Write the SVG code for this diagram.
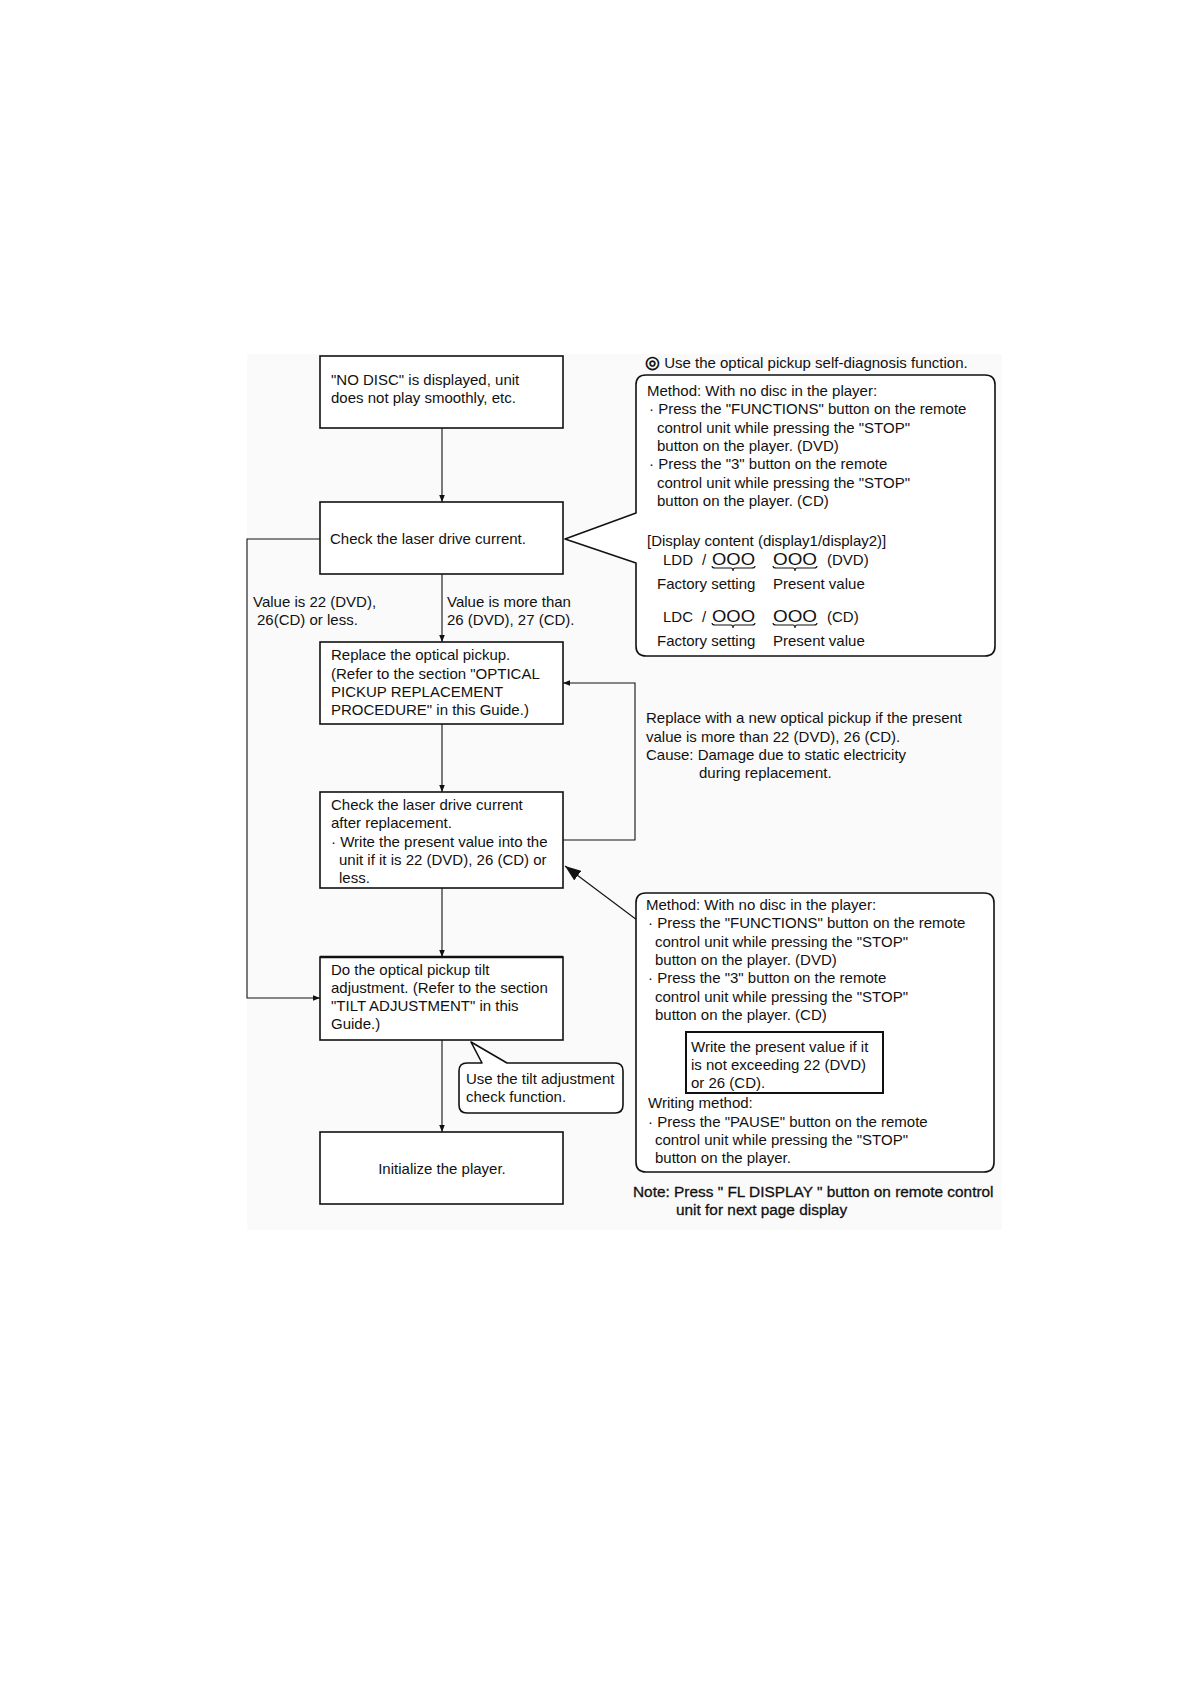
<svg xmlns="http://www.w3.org/2000/svg" width="1191" height="1685" viewBox="0 0 1191 1685">
<style>
text{font-family:"Liberation Sans",Arial,sans-serif;font-size:15px;fill:#111}
.box{fill:#fff;stroke:#111;stroke-width:1.6}
.bub{fill:#fff;stroke:#111;stroke-width:1.6;stroke-linejoin:round}
.con{fill:none;stroke:#111;stroke-width:1.1}
.note{stroke:#111;stroke-width:0.3;font-size:15.4px}
.ooo{font-size:17px}
</style>
<defs>
<marker id="ah" viewBox="0 0 10 10" refX="10" refY="5" markerWidth="7" markerHeight="7" markerUnits="userSpaceOnUse" orient="auto"><path d="M0,1 L10,5 L0,9 Z" fill="#111"/></marker>
<marker id="ahb" viewBox="0 0 10 10" refX="10" refY="5" markerWidth="16" markerHeight="12" markerUnits="userSpaceOnUse" orient="auto" preserveAspectRatio="none"><path d="M0,0 L10,5 L0,10 Z" fill="#111"/></marker>
</defs>
<rect x="0" y="0" width="1191" height="1685" fill="#fff"/>
<rect x="247" y="354" width="755" height="876" fill="#fafafa"/>

<g id="connectors">
<line class="con" x1="442" y1="428" x2="442" y2="502" marker-end="url(#ah)"/>
<line class="con" x1="442" y1="574" x2="442" y2="642" marker-end="url(#ah)"/>
<line class="con" x1="442" y1="724" x2="442" y2="792" marker-end="url(#ah)"/>
<line class="con" x1="442" y1="888" x2="442" y2="957" marker-end="url(#ah)"/>
<line class="con" x1="442" y1="1040" x2="442" y2="1132" marker-end="url(#ah)"/>
<path class="con" d="M320,539 L247,539 L247,998 L320,998" marker-end="url(#ah)"/>
<path class="con" d="M563,840 L635,840 L635,683 L563,683" marker-end="url(#ah)"/>
<line class="con" x1="637" y1="920" x2="565" y2="866" stroke-width="1.6" marker-end="url(#ahb)"/>
</g>

<g id="n1">
<rect class="box" x="320" y="356" width="243" height="72"/>
<text x="331" y="385">"NO DISC" is displayed, unit</text>
<text x="331" y="403">does not play smoothly, etc.</text>
</g>

<g id="n2">
<rect class="box" x="320" y="502" width="243" height="72"/>
<text x="330" y="544">Check the laser drive current.</text>
</g>

<g id="labels">
<text x="253" y="607">Value is 22 (DVD),</text>
<text x="257" y="625">26(CD) or less.</text>
<text x="447" y="607">Value is more than</text>
<text x="447" y="625">26 (DVD), 27 (CD).</text>
</g>

<g id="n3">
<rect class="box" x="320" y="642" width="243" height="82"/>
<text x="331" y="660">Replace the optical pickup.</text>
<text x="331" y="679">(Refer to the section "OPTICAL</text>
<text x="331" y="697">PICKUP REPLACEMENT</text>
<text x="331" y="715">PROCEDURE" in this Guide.)</text>
</g>

<g id="n4">
<rect class="box" x="320" y="792" width="243" height="96"/>
<text x="331" y="810">Check the laser drive current</text>
<text x="331" y="828">after replacement.</text>
<text x="331" y="847">· Write the present value into the</text>
<text x="339" y="865">unit if it is 22 (DVD), 26 (CD) or</text>
<text x="339" y="883">less.</text>
</g>

<g id="n5">
<rect class="box" x="320" y="957" width="243" height="83"/>
<line x1="320" y1="957" x2="563" y2="957" stroke="#111" stroke-width="2.6"/>
<text x="331" y="975">Do the optical pickup tilt</text>
<text x="331" y="993">adjustment.  (Refer to the section</text>
<text x="331" y="1011">"TILT ADJUSTMENT" in this</text>
<text x="331" y="1029">Guide.)</text>
</g>

<g id="n6">
<rect class="box" x="320" y="1132" width="243" height="72"/>
<text x="442" y="1174" text-anchor="middle">Initialize the player.</text>
</g>

<g id="tilt-callout">
<path class="bub" d="M482,1063 L471,1042 L507,1063 L615,1063 Q623,1063 623,1071 L623,1105 Q623,1113 615,1113 L467,1113 Q459,1113 459,1105 L459,1071 Q459,1063 467,1063 Z"/>
<text x="466" y="1084">Use the tilt adjustment</text>
<text x="466" y="1102">check function.</text>
</g>

<g id="diag-callout">
<text x="645" y="368"><tspan font-size="17" font-weight="bold">◎</tspan> Use the optical pickup self-diagnosis function.</text>
<path class="bub" d="M636,513 L636,385 Q636,375 646,375 L985,375 Q995,375 995,385 L995,646 Q995,656 985,656 L646,656 Q636,656 636,646 L636,563 L565,539 Z"/>
<text x="647" y="396">Method: With no disc in the player:</text>
<text x="649" y="414">· Press the "FUNCTIONS" button on the remote</text>
<text x="657" y="433">control unit while pressing the "STOP"</text>
<text x="657" y="451">button on the player. (DVD)</text>
<text x="649" y="469">· Press the "3" button on the remote</text>
<text x="657" y="488">control unit while pressing the "STOP"</text>
<text x="657" y="506">button on the player. (CD)</text>
<text x="647" y="546">[Display content (display1/display2)]</text>
<text x="663" y="565">LDD</text>
<text x="702" y="565">/</text>
<text class="ooo" x="712" y="565" textLength="43" lengthAdjust="spacingAndGlyphs">OOO</text>
<text class="ooo" x="773" y="565" textLength="44" lengthAdjust="spacingAndGlyphs">OOO</text>
<text x="827" y="565">(DVD)</text>
<path class="con" d="M712,566 q0,2 3,2 L731,568 q2,0 2,3 q0,-3 2,-3 L752,568 q3,0 3,-2 M773,566 q0,2 3,2 L793,568 q2,0 2,3 q0,-3 2,-3 L814,568 q3,0 3,-2"/>
<text x="657" y="589">Factory setting</text>
<text x="773" y="589">Present value</text>
<text x="663" y="622">LDC</text>
<text x="702" y="622">/</text>
<text class="ooo" x="712" y="622" textLength="43" lengthAdjust="spacingAndGlyphs">OOO</text>
<text class="ooo" x="773" y="622" textLength="44" lengthAdjust="spacingAndGlyphs">OOO</text>
<text x="827" y="622">(CD)</text>
<path class="con" d="M712,623 q0,2 3,2 L731,625 q2,0 2,3 q0,-3 2,-3 L752,625 q3,0 3,-2 M773,623 q0,2 3,2 L793,625 q2,0 2,3 q0,-3 2,-3 L814,625 q3,0 3,-2"/>
<text x="657" y="646">Factory setting</text>
<text x="773" y="646">Present value</text>
</g>

<g id="replace-note">
<text x="646" y="723">Replace with a new optical pickup if the present</text>
<text x="646" y="742">value is more than 22 (DVD), 26 (CD).</text>
<text x="646" y="760">Cause: Damage due to static electricity</text>
<text x="699" y="778">during replacement.</text>
</g>

<g id="write-callout">
<path class="bub" d="M646,893 L984,893 Q994,893 994,903 L994,1162 Q994,1172 984,1172 L646,1172 Q636,1172 636,1162 L636,903 Q636,893 646,893 Z"/>
<text x="646" y="910">Method: With no disc in the player:</text>
<text x="648" y="928">· Press the "FUNCTIONS" button on the remote</text>
<text x="655" y="947">control unit while pressing the "STOP"</text>
<text x="655" y="965">button on the player. (DVD)</text>
<text x="648" y="983">· Press the "3" button on the remote</text>
<text x="655" y="1002">control unit while pressing the "STOP"</text>
<text x="655" y="1020">button on the player. (CD)</text>
<rect x="686" y="1032" width="197" height="61" fill="#fff" stroke="#111" stroke-width="2"/>
<text x="691" y="1052">Write the present value if it</text>
<text x="691" y="1070">is not exceeding 22 (DVD)</text>
<text x="691" y="1088">or 26 (CD).</text>
<text x="648" y="1108">Writing method:</text>
<text x="648" y="1127">· Press the "PAUSE" button on the remote</text>
<text x="655" y="1145">control unit while pressing the "STOP"</text>
<text x="655" y="1163">button on the player.</text>
</g>

<g id="footnote">
<text class="note" x="633" y="1197">Note: Press " FL DISPLAY " button on remote control</text>
<text class="note" x="676" y="1215">unit for next page display</text>
</g>
</svg>
